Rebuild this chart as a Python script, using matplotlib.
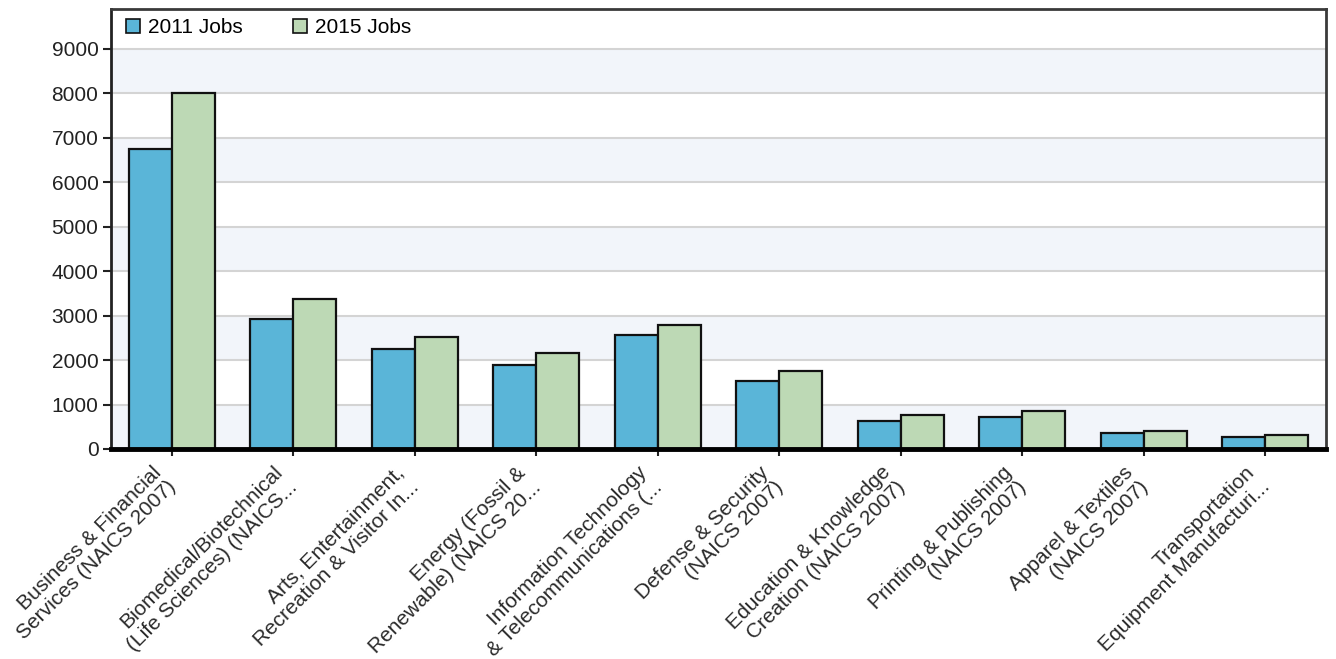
import matplotlib
matplotlib.use("Agg")
import matplotlib.pyplot as plt
import matplotlib.transforms as mtransforms
import numpy as np

categories = [
    "Business & Financial\nServices (NAICS 2007)",
    "Biomedical/Biotechnical\n(Life Sciences) (NAICS...",
    "Arts, Entertainment,\nRecreation & Visitor In...",
    "Energy (Fossil &\nRenewable) (NAICS 20...",
    "Information Technology\n& Telecommunications (...",
    "Defense & Security\n(NAICS 2007)",
    "Education & Knowledge\nCreation (NAICS 2007)",
    "Printing & Publishing\n(NAICS 2007)",
    "Apparel & Textiles\n(NAICS 2007)",
    "Transportation\nEquipment Manufacturi...",
]
jobs_2011 = [6750, 2930, 2250, 1885, 2555, 1525, 630, 717, 352, 270]
jobs_2015 = [8000, 3370, 2510, 2160, 2790, 1755, 755, 845, 405, 322]
series_names = ["2011 Jobs", "2015 Jobs"]
yticks = list(range(0, 10000, 1000))

plt.rcParams['font.family'] = ['Liberation Sans', 'DejaVu Sans']

fig = plt.figure(figsize=(13.36, 6.59), dpi=100)
ax = fig.add_axes([111/1336, 1 - 449/659, (1326-111)/1336, (449-9)/659])

x = np.arange(len(categories))
w = 0.355
c1, c2 = "#5ab5d8", "#bdd9b5"
ax.bar(x - w/2, jobs_2011, w, color=c1, edgecolor="#111111", linewidth=1.6, label=series_names[0], zorder=3)
ax.bar(x + w/2, jobs_2015, w, color=c2, edgecolor="#111111", linewidth=1.6, label=series_names[1], zorder=3)

# alternating bands
for i, lo in enumerate(yticks[:-1]):
    if i % 2 == 0:
        ax.axhspan(lo, lo + 1000, color="#f2f5fa", zorder=0, lw=0)
for t in yticks[1:]:
    ax.axhline(t, color="#d4d4d4", lw=1.5, zorder=1)

ax.set_xlim(-0.5, len(categories) - 0.5)
ax.set_ylim(0, 9900)
ax.set_yticks(yticks)
ax.set_yticklabels([str(v) for v in yticks], fontsize=15, color="#222222")
ax.set_xticks(x)
ax.set_xticklabels(categories, rotation=45, ha="right", va="center", rotation_mode="anchor",
                   fontsize=15, color="#2a2a2a", multialignment="right", linespacing=1.12)
ax.tick_params(axis="y", length=6, width=1.5, color="#222222", pad=3)
ax.tick_params(axis="x", length=5, width=1.5, color="#222222", pad=15)
offset = mtransforms.ScaledTranslation(-6/100, 0, fig.dpi_scale_trans)
for lab in ax.get_xticklabels():
    lab.set_transform(lab.get_transform() + offset)

for s in ["top", "right"]:
    ax.spines[s].set_color("#3a3a3a")
    ax.spines[s].set_linewidth(2)
ax.spines["left"].set_color("#222222")
ax.spines["left"].set_linewidth(2)
ax.spines["bottom"].set_color("#000000")
ax.spines["bottom"].set_linewidth(3.5)
ax.spines["bottom"].set_zorder(5)

leg = ax.legend(loc="upper left", ncol=2, frameon=False, fontsize=15,
                handlelength=0.68, handleheight=0.68, columnspacing=2.4,
                handletextpad=0.4, bbox_to_anchor=(0.0, 1.012), borderaxespad=0.3)
for h in leg.legend_handles:
    h.set_linewidth(1.2)

fig.savefig("out.png", dpi=100)
